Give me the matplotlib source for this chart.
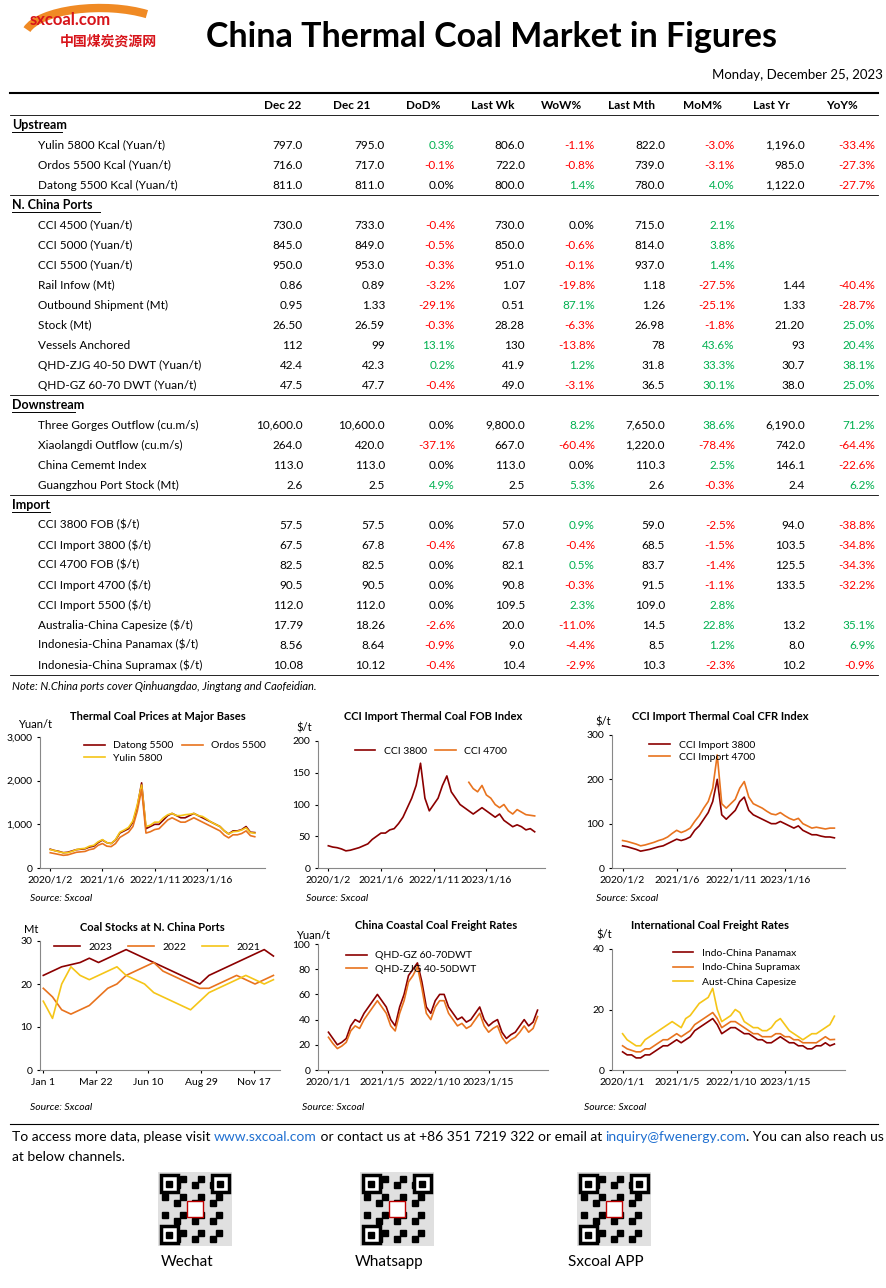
import numpy as np
import matplotlib.pyplot as plt
from matplotlib.patches import Rectangle, Arc

W, H = 887, 1288
plt.rcParams['font.family'] = ['Lato', 'DejaVu Sans']

# ---------------- table data ----------------
columns = ['Dec 22', 'Dec 21', 'DoD%', 'Last Wk', 'WoW%', 'Last Mth', 'MoM%', 'Last Yr', 'YoY%']
sections = {
    'Upstream': [
        ['Yulin 5800 Kcal (Yuan/t)', '797.0', '795.0', '0.3%', '806.0', '-1.1%', '822.0', '-3.0%', '1,196.0', '-33.4%'],
        ['Ordos 5500 Kcal (Yuan/t)', '716.0', '717.0', '-0.1%', '722.0', '-0.8%', '739.0', '-3.1%', '985.0', '-27.3%'],
        ['Datong 5500 Kcal (Yuan/t)', '811.0', '811.0', '0.0%', '800.0', '1.4%', '780.0', '4.0%', '1,122.0', '-27.7%'],
    ],
    'N. China Ports': [
        ['CCI 4500 (Yuan/t)', '730.0', '733.0', '-0.4%', '730.0', '0.0%', '715.0', '2.1%', '', ''],
        ['CCI 5000 (Yuan/t)', '845.0', '849.0', '-0.5%', '850.0', '-0.6%', '814.0', '3.8%', '', ''],
        ['CCI 5500 (Yuan/t)', '950.0', '953.0', '-0.3%', '951.0', '-0.1%', '937.0', '1.4%', '', ''],
        ['Rail Infow (Mt)', '0.86', '0.89', '-3.2%', '1.07', '-19.8%', '1.18', '-27.5%', '1.44', '-40.4%'],
        ['Outbound Shipment (Mt)', '0.95', '1.33', '-29.1%', '0.51', '87.1%', '1.26', '-25.1%', '1.33', '-28.7%'],
        ['Stock (Mt)', '26.50', '26.59', '-0.3%', '28.28', '-6.3%', '26.98', '-1.8%', '21.20', '25.0%'],
        ['Vessels Anchored', '112', '99', '13.1%', '130', '-13.8%', '78', '43.6%', '93', '20.4%'],
        ['QHD-ZJG 40-50 DWT (Yuan/t)', '42.4', '42.3', '0.2%', '41.9', '1.2%', '31.8', '33.3%', '30.7', '38.1%'],
        ['QHD-GZ 60-70 DWT (Yuan/t)', '47.5', '47.7', '-0.4%', '49.0', '-3.1%', '36.5', '30.1%', '38.0', '25.0%'],
    ],
    'Downstream': [
        ['Three Gorges Outflow (cu.m/s)', '10,600.0', '10,600.0', '0.0%', '9,800.0', '8.2%', '7,650.0', '38.6%', '6,190.0', '71.2%'],
        ['Xiaolangdi Outflow (cu.m/s)', '264.0', '420.0', '-37.1%', '667.0', '-60.4%', '1,220.0', '-78.4%', '742.0', '-64.4%'],
        ['China Cememt Index', '113.0', '113.0', '0.0%', '113.0', '0.0%', '110.3', '2.5%', '146.1', '-22.6%'],
        ['Guangzhou Port Stock (Mt)', '2.6', '2.5', '4.9%', '2.5', '5.3%', '2.6', '-0.3%', '2.4', '6.2%'],
    ],
    'Import': [
        ['CCI 3800 FOB ($/t)', '57.5', '57.5', '0.0%', '57.0', '0.9%', '59.0', '-2.5%', '94.0', '-38.8%'],
        ['CCI Import 3800 ($/t)', '67.5', '67.8', '-0.4%', '67.8', '-0.4%', '68.5', '-1.5%', '103.5', '-34.8%'],
        ['CCI 4700 FOB ($/t)', '82.5', '82.5', '0.0%', '82.1', '0.5%', '83.7', '-1.4%', '125.5', '-34.3%'],
        ['CCI Import 4700 ($/t)', '90.5', '90.5', '0.0%', '90.8', '-0.3%', '91.5', '-1.1%', '133.5', '-32.2%'],
        ['CCI Import 5500 ($/t)', '112.0', '112.0', '0.0%', '109.5', '2.3%', '109.0', '2.8%', '', ''],
        ['Australia-China Capesize ($/t)', '17.79', '18.26', '-2.6%', '20.0', '-11.0%', '14.5', '22.8%', '13.2', '35.1%'],
        ['Indonesia-China Panamax ($/t)', '8.56', '8.64', '-0.9%', '9.0', '-4.4%', '8.5', '1.2%', '8.0', '6.9%'],
        ['Indonesia-China Supramax ($/t)', '10.08', '10.12', '-0.4%', '10.4', '-2.9%', '10.3', '-2.3%', '10.2', '-0.9%'],
    ],
}

# ---------------- chart data (monthly, Jan 2020 - Dec 2023) ----------------
datong = [430, 400, 380, 350, 360, 390, 420, 430, 440, 480, 500, 580,
          640, 580, 560, 640, 800, 850, 900, 1050, 1400, 1950, 900, 950,
          1000, 1000, 1100, 1200, 1250, 1200, 1150, 1150, 1200, 1250, 1200, 1150,
          1100, 1050, 1000, 950, 850, 780, 850, 850, 880, 950, 820, 811]
ordos = [350, 330, 310, 290, 300, 330, 360, 370, 380, 420, 440, 520,
         560, 500, 490, 560, 700, 760, 820, 950, 1300, 1800, 800, 830,
         880, 900, 1000, 1100, 1150, 1100, 1050, 1050, 1100, 1150, 1100, 1050,
         1000, 950, 900, 850, 750, 690, 760, 760, 790, 850, 740, 716]
yulin = [420, 400, 370, 350, 350, 380, 420, 440, 450, 500, 520, 600,
         650, 580, 560, 650, 820, 870, 930, 1080, 1450, 1900, 950, 980,
         1050, 1050, 1150, 1220, 1250, 1200, 1200, 1220, 1230, 1250, 1200, 1180,
         1120, 1050, 1000, 950, 850, 780, 830, 840, 870, 920, 810, 797]

cci3800 = [35, 33, 32, 30, 27, 28, 30, 32, 35, 38, 45, 50,
           55, 55, 60, 62, 70, 80, 95, 110, 130, 165, 110, 90,
           100, 110, 130, 145, 120, 110, 100, 95, 90, 85, 90, 95,
           90, 85, 80, 85, 75, 70, 65, 68, 65, 60, 62, 57]
cci4700 = [np.nan] * 32 + [135, 125, 120, 130, 115, 110, 100, 95, 100, 90, 85, 92, 88, 84, 83, 82]

imp3800 = [50, 48, 45, 42, 38, 40, 42, 45, 48, 50, 55, 60,
           65, 62, 65, 70, 85, 95, 110, 125, 150, 200, 120, 110,
           120, 130, 150, 160, 130, 120, 115, 110, 105, 100, 100, 105,
           100, 95, 90, 95, 85, 80, 75, 75, 72, 70, 70, 68]
imp4700 = [62, 60, 57, 54, 50, 52, 55, 58, 62, 65, 70, 78,
           85, 80, 84, 90, 105, 118, 135, 150, 180, 255, 145, 135,
           145, 155, 180, 195, 160, 145, 140, 135, 128, 122, 120, 125,
           118, 112, 108, 112, 100, 95, 90, 92, 90, 88, 90, 90]

# biweekly port stocks (Mt), Jan - Dec
stock23 = [22, 23, 24, 24.5, 25, 26, 25, 26, 27, 28, 27, 26, 25,
           24, 23, 22, 21, 20, 22, 23, 24, 25, 26, 27, 28, 26.5]
stock22 = [19, 17, 14, 13, 14, 15, 17, 19, 20, 22, 23, 24, 25,
           23, 22, 21, 20, 19, 19, 20, 21, 22, 21, 20, 21, 22]
stock21 = [16, 12, 20, 24, 22, 21, 22, 23, 24, 22, 21, 20, 18,
           17, 16, 15, 14, 16, 18, 19, 20, 21, 22, 21, 20, 21]
stock_days = [0, 14, 28, 42, 56, 70, 84, 98, 112, 126, 140, 154, 168,
              182, 196, 210, 224, 238, 252, 266, 280, 294, 308, 322, 336, 350]

qhd_gz = [30, 25, 20, 22, 25, 35, 40, 38, 45, 50, 55, 60,
          55, 50, 40, 35, 50, 60, 75, 80, 85, 70, 50, 45,
          55, 60, 60, 50, 45, 40, 42, 38, 40, 45, 50, 40,
          35, 38, 40, 30, 25, 28, 30, 35, 40, 35, 38, 47.5]
qhd_zjg = [26, 21, 17, 19, 22, 31, 35, 33, 40, 45, 50, 55,
           50, 45, 35, 31, 45, 55, 70, 75, 82, 65, 45, 40,
           50, 55, 55, 45, 40, 35, 37, 33, 35, 40, 45, 35,
           30, 33, 35, 26, 21, 24, 26, 30, 35, 30, 33, 42.4]

panamax = [6, 5, 5, 4, 4, 5, 5, 6, 7, 8, 8, 9,
           10, 9, 10, 11, 13, 14, 15, 16, 17, 15, 12, 13,
           14, 14, 13, 12, 12, 11, 10, 10, 9, 9, 10, 11,
           10, 9, 9, 8, 8, 7, 7, 8, 8, 9, 8, 8.6]
supramax = [8, 7, 6.5, 6, 6, 7, 7, 8, 9, 10, 10, 11,
            12, 11, 12, 13, 15, 16, 17, 18, 19, 17, 14, 15,
            16, 16, 15, 14, 13, 12, 12, 11, 11, 11, 12, 12,
            11, 11, 10, 10, 9, 9, 9, 9, 10, 11, 10, 10.1]
capesize = [12, 10, 9, 8, 8, 10, 11, 12, 13, 14, 15, 16,
            15, 14, 17, 18, 20, 22, 23, 24, 27, 20, 16, 17,
            18, 20, 19, 16, 15, 14, 14, 13, 13, 14, 16, 17,
            15, 13, 12, 11, 10, 11, 12, 12, 13, 14, 15, 17.8]

months = np.arange(48)
DARK, ORANGE, YELLOW = '#8B0000', '#E8731E', '#F5C518'
RED, GREEN = '#FF0000', '#00B050'

fig = plt.figure(figsize=(W / 100, H / 100), dpi=100)
bg = fig.add_axes([0, 0, 1, 1])
bg.set_xlim(0, W)
bg.set_ylim(H, 0)
bg.axis('off')

# ---------------- header ----------------
bg.add_patch(Arc((100, 36), 150, 56, theta1=185, theta2=335, color='#F08A24', lw=6))
bg.text(30, 20, 'sxcoal.com', color='#D7141A', fontsize=12, fontweight='bold', va='center')
bg.text(60, 42, '中国煤炭资源网', color='#D7141A', fontsize=10, fontweight='bold', va='center',
        family=['Noto Sans CJK SC', 'DejaVu Sans'])
bg.text(492, 37, 'China Thermal Coal Market in Figures', fontsize=24.5, fontweight='bold',
        ha='center', va='center')
bg.text(883, 75, 'Monday, December 25, 2023', fontsize=9.5, ha='right', va='center')
bg.plot([10, 878], [93, 93], color='black', lw=1.5)

# ---------------- table ----------------
right_x = [303, 385, 455, 525, 595, 665, 735, 805, 875]
head_x = [283, 352, 423, 493, 562, 632, 703, 771, 842]
for c, x in zip(columns, head_x):
    bg.text(x, 105, c, fontsize=8.5, fontweight='bold', ha='center', va='center')
bg.plot([10, 878], [115, 115], color='black', lw=0.6)

y = 125
for si, (name, rows) in enumerate(sections.items()):
    if si > 0:
        bg.plot([10, 878], [y - 10, y - 10], color='black', lw=0.6)
    bg.text(12, y, name, fontsize=9, fontweight='bold', va='center')
    bg.plot([12, 12 + 6.3 * len(name)], [y + 7, y + 7], color='black', lw=0.7)
    y += 20
    for row in rows:
        bg.text(38, y, row[0], fontsize=8.5, va='center')
        for j, v in enumerate(row[1:]):
            col = 'black'
            if v.endswith('%') and v != '0.0%':
                col = RED if v.startswith('-') else GREEN
            bg.text(right_x[j], y, v, fontsize=8.5, ha='right', va='center', color=col)
        y += 20
bg.plot([10, 878], [y - 10, y - 10], color='black', lw=0.6)
bg.text(12, 686, 'Note: N.China ports cover Qinhuangdao, Jingtang and Caofeidian.',
        fontsize=8, style='italic', va='center')


# ---------------- charts ----------------
def add_ax(x0, y0, x1, y1):
    return fig.add_axes([x0 / W, 1 - y1 / H, (x1 - x0) / W, (y1 - y0) / H])


def style(ax, title, tx, ty, ylim, yticks, xticks, xlabels):
    ax.set_ylim(*ylim)
    ax.set_yticks(yticks)
    ax.set_xticks(xticks)
    ax.set_xticklabels(xlabels)
    ax.tick_params(labelsize=7.5, length=2)
    for s in ['top', 'right']:
        ax.spines[s].set_visible(False)
    for s in ['left', 'bottom']:
        ax.spines[s].set_color('#888888')
    bg.text(tx, ty, title, fontsize=8, fontweight='bold', ha='center', va='center')


yr_ticks = [0, 12, 24, 36]
ax = add_ax(40, 737, 265, 868)
ax.plot(months, datong, color=DARK, lw=1.2, label='Datong 5500')
ax.plot(months, yulin, color=YELLOW, lw=1.2, label='Yulin 5800')
ax.plot(months, ordos, color=ORANGE, lw=1.2, label='Ordos 5500')
style(ax, 'Thermal Coal Prices at Major Bases', 158, 716, (0, 3000), [0, 1000, 2000, 3000],
      yr_ticks, ['2020/1/2', '2021/1/6', '2022/1/11', '2023/1/16'])
ax.set_yticklabels(['0', '1,000', '2,000', '3,000'])
ax.legend(ncol=2, fontsize=7.5, frameon=False, loc='upper center', bbox_to_anchor=(0.6, 1.04),
          handlelength=2, columnspacing=0.8, labelspacing=0.3)
bg.text(18, 724, 'Yuan/t', fontsize=8, va='center')
bg.text(30, 898, 'Source: Sxcoal', fontsize=7.5, style='italic', va='center')

ax = add_ax(318, 741, 545, 868)
ax.plot(months, cci3800, color=DARK, lw=1.2, label='CCI 3800')
ax.plot(months, cci4700, color=ORANGE, lw=1.2, label='CCI 4700')
style(ax, 'CCI Import Thermal Coal FOB Index', 433, 716, (0, 200), [0, 50, 100, 150, 200],
      yr_ticks, ['2020/1/2', '2021/1/6', '2022/1/11', '2023/1/16'])
ax.legend(ncol=2, fontsize=7.5, frameon=False, loc='upper left', bbox_to_anchor=(0.12, 1.03),
          handlelength=2, columnspacing=0.8)
bg.text(296, 728, '$/t', fontsize=8, va='center')
bg.text(306, 898, 'Source: Sxcoal', fontsize=7.5, style='italic', va='center')

ax = add_ax(612, 735, 845, 868)
ax.plot(months, imp3800, color=DARK, lw=1.2, label='CCI Import 3800')
ax.plot(months, imp4700, color=ORANGE, lw=1.2, label='CCI Import 4700')
style(ax, 'CCI Import Thermal Coal CFR Index', 720, 716, (0, 300), [0, 100, 200, 300],
      yr_ticks, ['2020/1/2', '2021/1/6', '2022/1/11', '2023/1/16'])
ax.legend(fontsize=7.5, frameon=False, loc='upper left', bbox_to_anchor=(0.12, 1.03),
          handlelength=2, labelspacing=0.3)
bg.text(595, 722, '$/t', fontsize=8, va='center')
bg.text(596, 898, 'Source: Sxcoal', fontsize=7.5, style='italic', va='center')

ax = add_ax(40, 941, 280, 1070)
ax.plot(stock_days, stock23, color=DARK, lw=1.2, label='2023')
ax.plot(stock_days, stock22, color=ORANGE, lw=1.2, label='2022')
ax.plot(stock_days, stock21, color=YELLOW, lw=1.2, label='2021')
style(ax, 'Coal Stocks at N. China Ports', 152, 927, (0, 30), [0, 10, 20, 30],
      [0, 80, 160, 240, 320], ['Jan 1', 'Mar 22', 'Jun 10', 'Aug 29', 'Nov 17'])
ax.set_xlim(-5, 360)
ax.legend(ncol=3, fontsize=7.5, frameon=False, loc='upper left', bbox_to_anchor=(0.02, 1.06),
          handlelength=2.5, columnspacing=1.5)
bg.text(24, 929, 'Mt', fontsize=8, va='center')
bg.text(30, 1107, 'Source: Sxcoal', fontsize=7.5, style='italic', va='center')

ax = add_ax(318, 944, 548, 1070)
ax.plot(months, qhd_gz, color=DARK, lw=1.2, label='QHD-GZ 60-70DWT')
ax.plot(months, qhd_zjg, color=ORANGE, lw=1.2, label='QHD-ZJG 40-50DWT')
style(ax, 'China Coastal Coal Freight Rates', 436, 925, (0, 100), [0, 20, 40, 60, 80, 100],
      yr_ticks, ['2020/1/1', '2021/1/5', '2022/1/10', '2023/1/15'])
ax.legend(fontsize=7.5, frameon=False, loc='upper left', bbox_to_anchor=(0.08, 1.02),
          handlelength=2, labelspacing=0.4)
bg.text(296, 935, 'Yuan/t', fontsize=8, va='center')
bg.text(302, 1107, 'Source: Sxcoal', fontsize=7.5, style='italic', va='center')

ax = add_ax(612, 949, 845, 1070)
ax.plot(months, panamax, color=DARK, lw=1.2, label='Indo-China Panamax')
ax.plot(months, supramax, color=ORANGE, lw=1.2, label='Indo-China Supramax')
ax.plot(months, capesize, color=YELLOW, lw=1.2, label='Aust-China Capesize')
style(ax, 'International Coal Freight Rates', 710, 925, (0, 40), [0, 20, 40],
      yr_ticks, ['2020/1/1', '2021/1/5', '2022/1/10', '2023/1/15'])
ax.legend(fontsize=7.5, frameon=False, loc='upper left', bbox_to_anchor=(0.22, 1.08),
          handlelength=2, labelspacing=0.5)
bg.text(596, 935, '$/t', fontsize=8, va='center')
bg.text(584, 1107, 'Source: Sxcoal', fontsize=7.5, style='italic', va='center')

# ---------------- footer ----------------
bg.plot([10, 878], [1124, 1124], color='black', lw=0.8)
pieces = [('To access more data, please visit ', 'black'), ('www.sxcoal.com', '#1F6FD0'),
          (' or contact us at +86 351 7219 322 or email at ', 'black'),
          ('inquiry@fwenergy.com', '#1F6FD0'), ('. You can also reach us', 'black')]
prev = bg.text(12, 1137, pieces[0][0], fontsize=10, va='center', color=pieces[0][1])
for txt, col in pieces[1:]:
    prev = bg.annotate(txt, xy=(1, 0.5), xycoords=prev, va='center', ha='left',
                       fontsize=10, color=col)
bg.text(12, 1157, 'at below channels.', fontsize=10, va='center')

finder = [(0, 0), (0, 1), (1, 0)]
for cx, label in [(195, 'Wechat'), (397, 'Whatsapp'), (614, 'Sxcoal APP')]:
    s = 74
    x0, y0 = cx - s / 2, 1172
    bg.add_patch(Rectangle((x0, y0), s, s, facecolor='#E0E0E0', edgecolor='none'))
    for i in range(11):
        for j in range(11):
            if (i * 7 + j * 5 + i * j) % 3 == 0:
                bg.add_patch(Rectangle((x0 + 4 + i * 6, y0 + 4 + j * 6), 6, 6, color='black'))
    for fx, fy in finder:
        px_, py_ = x0 + 3 + fx * (s - 23), y0 + 3 + fy * (s - 23)
        bg.add_patch(Rectangle((px_, py_), 17, 17, facecolor='white', edgecolor='black', lw=2.5))
        bg.add_patch(Rectangle((px_ + 5.5, py_ + 5.5), 6, 6, color='black'))
    bg.add_patch(Rectangle((cx - 8, y0 + s / 2 - 8), 16, 16, facecolor='white', edgecolor='#C00000'))
    bg.text(cx - 8, 1262, label, fontsize=11, ha='center', va='center')

fig.savefig('out.png', dpi=100)
